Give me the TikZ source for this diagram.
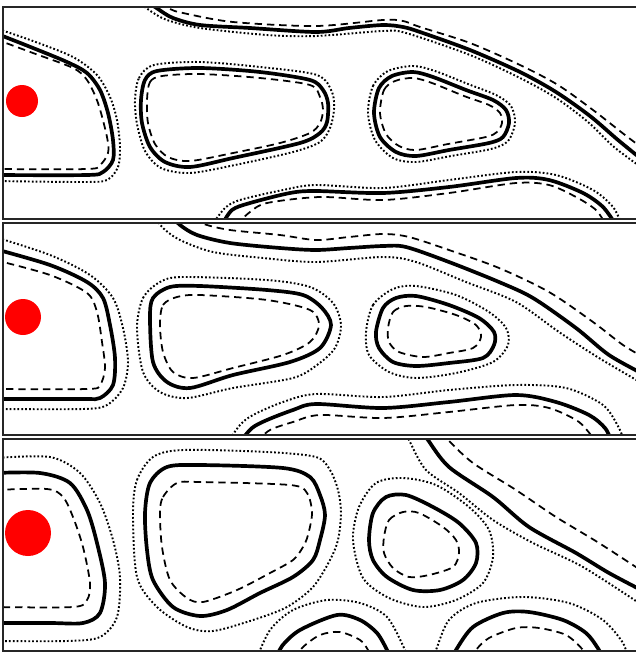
\documentclass[tikz,border=0pt]{standalone}
\begin{document}
\begin{tikzpicture}[x=0.02cm, y=-0.02cm,
  lvl/.style={line width=2.1pt, line join=round},
  inner/.style={line width=1pt, dash pattern=on 4.2pt off 2.8pt},
  outer/.style={line width=1.1pt, dash pattern=on 1pt off 1.2pt},
  frame/.style={draw, black!85, line width=0.6pt},
  src/.style={fill=red}]
\useasboundingbox (0,0) rectangle (636,653);
% panel 1
\begin{scope}
  \clip (3,7) rectangle (636,219);
  \fill[src] (22,101) circle[radius=16];
  % left region
  \draw[outer] plot[smooth] coordinates {(-5,28) (33,41) (73,57) (97,75) (110,97) (117,120) (120,147) (118,167) (107,180) (83,182) (-5,181)};
  \draw[lvl] plot[smooth] coordinates {(-5,33) (33,48) (67,62) (87,73) (100,90) (108,113) (113,140) (113,160) (103,172) (87,175) (-5,175)};
  \draw[inner] plot[smooth] coordinates {(-5,39) (33,53) (73,68) (87,80) (98,103) (107,137) (108,153) (100,165) (87,169) (-5,169)};
  % middle island
  \draw[outer] plot[smooth cycle] coordinates {(135,100) (139,78) (154,65) (200,62) (260,67) (317,75) (332,92) (334,110) (330,128) (320,142) (293,152) (235,165) (190,173) (161,168) (145,151) (137,124)};
  \draw[lvl] plot[smooth cycle] coordinates {(141,100) (145,80) (157,71) (200,68) (260,72) (310,80) (323,90) (328,103) (327,122) (320,133) (300,143) (233,158) (190,167) (165,162) (150,147) (142,123)};
  \draw[inner] plot[smooth cycle] coordinates {(147,100) (150,82) (162,76) (200,74) (260,78) (310,85) (320,97) (323,110) (320,123) (310,133) (280,143) (233,153) (190,161) (168,157) (155,144) (148,123)};
  % small island
  \draw[outer] plot[smooth cycle] coordinates {(368,113) (373,86) (388,71) (413,66) (435,71) (468,84) (496,95) (511,106) (515,123) (508,141) (491,149) (451,156) (416,162) (393,158) (375,140)};
  \draw[lvl] plot[smooth cycle] coordinates {(374,113) (379,88) (392,76) (413,72) (433,77) (466,90) (493,100) (506,110) (509,123) (503,137) (489,143) (449,150) (416,156) (396,152) (380,137)};
  \draw[inner] plot[smooth cycle] coordinates {(380,113) (384,90) (395,81) (413,78) (432,83) (464,96) (489,105) (500,113) (502,123) (497,132) (486,137) (448,144) (416,150) (399,146) (386,134)};
  % upper band
  \draw[outer] plot[smooth] coordinates {(138,2) (152,12) (167,20) (200,28) (267,35) (316,36) (383,31) (406,33) (470,55) (520,78) (556,98) (588,122) (614,147) (645,170)};
  \draw[lvl] plot[smooth] coordinates {(148,2) (158,9) (173,18) (200,25) (250,28) (316,32) (349,28) (383,25) (403,27) (420,32) (470,50) (520,72) (556,92) (590,116) (618,140) (645,162)};
  \draw[inner] plot[smooth] coordinates {(160,2) (170,9) (183,13) (233,22) (316,26) (383,20) (403,21) (420,27) (470,43) (520,65) (558,85) (593,110) (625,135) (645,150)};
  % lower band
  \draw[outer] plot[smooth] coordinates {(212,225) (225,208) (240,200) (283,190) (316,185) (383,188) (449,180) (516,172) (556,175) (593,190) (613,207) (622,225)};
  \draw[lvl] plot[smooth] coordinates {(222,225) (232,210) (250,203) (290,193) (316,191) (383,193) (449,187) (516,178) (549,180) (583,193) (603,207) (616,225)};
  \draw[inner] plot[smooth] coordinates {(236,225) (250,212) (267,203) (320,197) (383,200) (449,193) (516,183) (549,185) (576,197) (596,210) (606,225)};
\end{scope}
\draw[frame] (3,7) rectangle (640,219);
% panel 2
\begin{scope}
  \clip (3,223) rectangle (636,435);
  \fill[src] (23,317) circle[radius=18];
  % left region
  \draw[outer] plot[smooth] coordinates {(-5,237) (50,255) (90,275) (113,298) (123,328) (128,362) (123,388) (107,405) (83,409) (-5,409)};
  \draw[lvl] plot[smooth] coordinates {(-5,249) (50,265) (87,282) (103,298) (110,325) (115,358) (113,385) (100,398) (83,399) (-5,399)};
  \draw[inner] plot[smooth] coordinates {(-5,260) (50,275) (87,293) (97,312) (102,342) (105,368) (100,385) (87,389) (-5,389)};
  % middle island
  \draw[outer] plot[smooth cycle] coordinates {(137,328) (143,298) (160,282) (183,277) (267,280) (310,287) (333,303) (341,325) (335,348) (317,365) (293,378) (233,388) (187,398) (160,392) (143,372)};
  \draw[lvl] plot[smooth cycle] coordinates {(150,318) (153,298) (170,287) (200,286) (267,290) (303,295) (322,308) (331,325) (320,348) (290,362) (233,375) (190,388) (167,382) (153,362)};
  \draw[inner] plot[smooth cycle] coordinates {(160,325) (163,305) (177,297) (200,295) (267,300) (310,310) (319,325) (310,342) (283,355) (233,368) (193,378) (173,372) (163,352)};
  % small island
  \draw[outer] plot[smooth cycle] coordinates {(366,332) (373,305) (393,289) (416,286) (456,295) (489,312) (506,328) (508,345) (493,362) (456,373) (416,378) (389,372) (369,355)};
  \draw[lvl] plot[smooth cycle] coordinates {(376,332) (383,308) (396,298) (416,296) (449,305) (479,318) (494,332) (494,345) (483,358) (449,363) (416,366) (393,362) (379,348)};
  \draw[inner] plot[smooth cycle] coordinates {(388,328) (393,312) (406,306) (426,307) (456,315) (476,325) (481,337) (473,348) (449,353) (423,357) (399,352) (389,342)};
  % upper band
  \draw[outer] plot[smooth] coordinates {(154,216) (163,228) (180,240) (213,252) (263,258) (316,262) (383,257) (416,262) (466,282) (516,302) (559,332) (599,358) (645,385)};
  \draw[lvl] plot[smooth] coordinates {(172,216) (180,225) (197,235) (230,243) (280,248) (316,250) (349,248) (383,246) (406,247) (449,262) (499,282) (533,298) (576,328) (609,355) (645,375)};
  \draw[inner] plot[smooth] coordinates {(195,217) (204,224) (230,230) (280,235) (316,240) (349,237) (383,234) (409,237) (449,250) (499,268) (549,292) (593,322) (623,345) (645,358)};
  % lower band
  \draw[outer] plot[smooth] coordinates {(228,442) (240,425) (253,415) (283,402) (316,394) (383,397) (449,390) (516,385) (566,388) (603,405) (619,428) (624,442)};
  \draw[lvl] plot[smooth] coordinates {(240,442) (252,428) (267,420) (293,410) (316,404) (383,408) (449,402) (516,395) (556,402) (589,415) (605,428) (612,442)};
  \draw[inner] plot[smooth] coordinates {(256,442) (270,430) (293,422) (320,415) (383,418) (449,412) (516,405) (549,408) (579,422) (596,442)};
\end{scope}
\draw[frame] (3,223) rectangle (640,435);
% panel 3
\begin{scope}
  \clip (3,439) rectangle (636,651);
  \fill[src] (28,533) circle[radius=23];
  % left region
  \draw[outer] plot[smooth] coordinates {(-5,458) (50,457) (80,473) (100,503) (113,540) (120,577) (117,617) (100,637) (67,641) (-5,641)};
  \draw[lvl] plot[smooth] coordinates {(-5,473) (40,473) (70,483) (87,510) (97,543) (105,583) (100,613) (83,623) (50,623) (-5,623)};
  \draw[inner] plot[smooth] coordinates {(-5,490) (47,489) (63,497) (73,517) (83,547) (90,583) (87,600) (73,607) (-5,607)};
  % middle island
  \draw[outer] plot[smooth cycle] coordinates {(133,513) (137,480) (153,457) (183,450) (267,452) (316,457) (330,470) (338,490) (341,513) (338,540) (330,560) (313,587) (287,607) (253,620) (213,631) (187,627) (157,607) (137,577)};
  \draw[lvl] plot[smooth cycle] coordinates {(145,513) (150,483) (167,467) (200,465) (283,468) (310,477) (320,495) (325,515) (320,540) (313,560) (293,577) (260,593) (227,610) (200,616) (173,607) (153,580) (147,550)};
  \draw[inner] plot[smooth cycle] coordinates {(160,513) (163,497) (177,483) (200,482) (290,485) (307,493) (312,513) (308,535) (303,547) (293,560) (270,573) (237,590) (203,602) (187,598) (170,580) (162,547)};
  % small island
  \draw[outer] plot[smooth cycle] coordinates {(353,540) (359,507) (376,483) (403,478) (436,485) (469,507) (489,530) (493,557) (483,583) (456,600) (423,607) (389,598) (363,578)};
  \draw[lvl] plot[smooth cycle] coordinates {(369,540) (373,513) (386,497) (406,495) (433,507) (459,523) (476,543) (476,563) (463,580) (440,590) (413,590) (387,577) (373,560)};
  \draw[inner] plot[smooth cycle] coordinates {(384,537) (389,520) (403,512) (419,513) (443,527) (456,540) (459,553) (453,567) (429,575) (409,577) (393,568) (384,553)};
  % upper right band
  \draw[outer] plot[smooth] coordinates {(405,432) (409,440) (426,470) (459,493) (493,520) (533,543) (583,567) (645,607)};
  \draw[lvl] plot[smooth] coordinates {(423,432) (428,440) (449,467) (493,497) (529,527) (576,553) (609,573) (645,592)};
  \draw[inner] plot[smooth] coordinates {(441,432) (448,440) (473,463) (516,490) (556,517) (599,543) (645,573)};
  % lower left arc
  \draw[outer] plot[smooth] coordinates {(256,660) (270,630) (293,610) (327,600) (360,603) (387,617) (405,650) (408,660)};
  \draw[lvl] plot[smooth] coordinates {(276,660) (282,646) (300,630) (337,615) (360,620) (377,633) (387,650) (391,660)};
  \draw[inner] plot[smooth] coordinates {(296,660) (302,648) (320,635) (340,632) (360,640) (368,650) (372,660)};
  % lower right arc
  \draw[outer] plot[smooth] coordinates {(432,660) (436,650) (449,620) (476,603) (523,597) (569,603) (603,620) (623,643) (628,660)};
  \draw[lvl] plot[smooth] coordinates {(452,660) (456,650) (473,627) (503,613) (529,612) (563,620) (586,633) (599,650) (603,660)};
  \draw[inner] plot[smooth] coordinates {(472,660) (476,650) (489,638) (516,628) (539,628) (566,635) (583,650) (587,660)};
\end{scope}
\draw[frame] (3,439) rectangle (640,651);
\end{tikzpicture}
\end{document}
